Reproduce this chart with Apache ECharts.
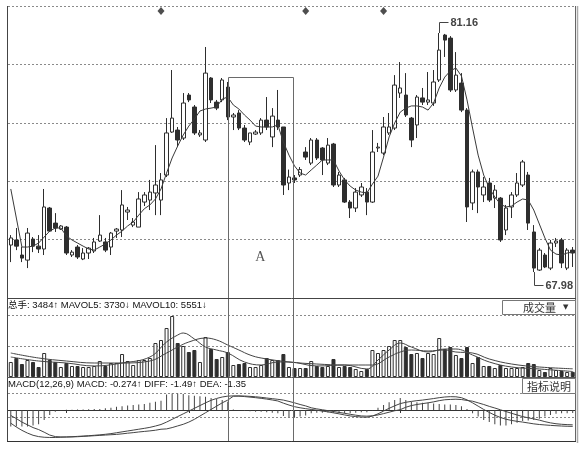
<!DOCTYPE html>
<html><head><meta charset="utf-8">
<script src="https://cdn.jsdelivr.net/npm/echarts@6/dist/echarts.min.js"></script>
<style>html,body{margin:0;padding:0;background:#fff}#c{width:583px;height:450px}</style>
</head><body><div id="c"></div>
<script>
// ---- candle data ----
const opens  = [69.47,69.75,68.92,68.64,69.80,69.41,69.25,71.51,70.68,70.35,70.46,68.92,69.36,68.70,69.03,69.14,69.69,69.64,69.36,70.24,70.30,71.29,70.57,70.46,71.84,71.95,72.34,71.95,73.33,75.70,75.81,75.37,77.74,77.08,75.54,75.26,78.68,77.35,77.47,78.18,76.53,76.75,75.92,75.15,75.59,75.65,76.36,75.43,76.36,75.98,72.89,73.17,73.33,74.60,73.99,75.26,74.82,73.99,75.04,72.78,73.06,71.84,71.51,72.23,72.39,71.84,74.82,74.54,75.65,75.92,77.85,77.74,76.47,76.09,77.58,77.35,77.30,78.57,81.05,80.88,78.02,78.40,76.91,71.79,73.50,72.23,72.89,72.06,72.06,70.30,71.57,72.23,72.78,73.33,70.19,68.09,68.92,68.20,69.58,69.75,68.20,69.19];
const closes = [69.86,69.41,68.75,70.13,69.41,69.25,71.57,70.24,70.41,70.52,69.03,69.08,68.81,69.03,69.30,69.64,70.02,69.19,70.13,70.35,71.68,71.40,70.74,72.01,72.23,72.39,72.78,73.06,75.65,76.47,75.26,77.30,77.47,75.65,75.65,78.95,77.47,77.02,78.57,76.53,76.64,75.92,75.26,75.65,75.70,76.36,75.98,76.58,75.98,72.78,73.22,73.06,73.63,74.32,75.26,74.27,74.16,74.98,72.78,73.33,71.84,71.51,72.39,72.67,71.84,74.60,74.87,75.98,75.98,78.29,78.13,76.64,75.26,77.63,77.35,77.47,78.46,80.22,80.77,78.02,78.84,76.91,71.57,73.50,72.67,72.67,71.95,72.50,69.75,71.51,72.23,72.89,74.05,70.68,68.20,69.19,68.26,69.58,69.69,68.48,69.19,69.03];
const lows   = [68.53,69.19,68.53,68.20,69.08,69.03,68.92,70.19,70.19,70.30,68.92,68.81,68.70,68.64,68.70,69.03,69.64,69.08,68.92,69.86,69.91,70.85,70.46,70.46,71.62,71.40,71.12,71.12,73.22,75.65,74.87,75.26,77.35,75.54,75.43,75.15,77.30,76.91,77.35,76.36,75.81,75.81,75.15,74.98,75.54,75.54,75.81,74.87,75.81,72.23,72.50,72.89,73.22,74.16,73.88,74.16,73.33,73.88,72.67,72.67,71.79,70.96,71.29,72.12,71.12,71.79,74.60,74.43,75.54,75.81,77.58,76.53,74.87,75.37,77.19,77.19,77.14,78.46,79.84,77.91,77.91,76.80,70.74,71.40,71.23,71.84,71.84,71.51,69.64,70.02,70.96,72.12,72.67,70.30,67.98,68.04,68.20,68.09,69.36,68.20,68.09,68.26];
const highs  = [70.02,70.41,69.36,70.41,69.91,70.02,72.56,71.57,71.23,70.57,70.52,69.19,69.47,69.30,69.36,69.86,71.12,69.86,70.19,70.41,72.50,71.57,70.96,72.39,72.39,73.06,74.98,73.44,76.47,79.12,75.98,77.85,77.85,77.19,75.81,80.39,78.73,77.47,78.68,78.46,76.75,76.91,76.09,75.65,75.81,76.47,77.63,77.02,78.02,75.98,73.63,73.33,73.77,74.87,75.37,75.37,74.87,75.37,75.10,73.50,73.17,71.95,72.61,72.89,72.61,75.81,75.10,76.53,76.75,78.84,79.56,78.95,76.53,77.74,78.13,79.01,79.12,81.16,81.11,80.99,80.11,78.95,77.02,73.63,73.63,73.22,73.17,72.78,72.12,71.68,72.39,73.44,74.16,73.50,70.57,69.30,69.03,69.75,69.86,69.86,69.30,69.36];
const ma5    = [72.56,70.96,69.36,69.36,69.41,69.58,69.91,70.24,70.41,70.41,69.97,69.75,69.58,69.41,69.25,69.19,69.36,69.53,69.75,70.02,70.24,70.52,70.74,71.12,71.47,71.68,72.01,72.56,73.44,74.27,74.93,75.54,76.03,76.42,76.86,76.97,77.02,77.08,77.52,77.63,77.19,76.97,76.64,76.36,76.03,75.98,75.98,75.98,76.09,75.15,74.43,73.83,73.44,73.33,73.61,73.88,74.16,74.16,74.16,73.55,73.06,72.72,72.50,72.39,72.34,72.83,73.27,74.32,75.43,76.20,76.80,77.02,77.14,77.14,77.08,76.91,77.30,78.13,78.73,79.07,79.23,78.79,77.47,75.92,74.43,73.33,72.61,72.12,71.73,71.57,71.62,71.84,72.01,71.95,71.40,70.63,69.86,69.19,68.97,68.92,69.03,69.08];
const highMark = 81.16, lowMark = 67.98;
const markerDays = [27, 53, 67];
const tickDays = [10, 32, 70, 92];

// ---- volume ----
const volumes = [10160,12860,8800,11510,10160,6770,16250,11510,10160,6770,9480,7450,7450,6770,6770,7450,10830,7450,9480,9480,15570,10830,8120,11510,11510,12860,23020,25050,33170,41300,23020,20990,16930,18280,10160,27080,18960,12190,13540,16930,8120,8800,9480,6770,6770,8120,12860,11510,11510,15570,6770,6090,6090,6090,10830,7450,6770,7450,12190,6770,7450,6770,5420,4060,5420,18280,16250,18280,20990,25050,25050,20310,15570,16250,12860,16250,15570,26400,18960,20310,14890,12860,20310,9480,13540,7450,7450,6090,8120,6090,6090,6090,6770,9480,8800,4740,3390,6090,4740,4060,3390,3484];
const mavol5Pts = [[0,13540],[5,10830],[10,9480],[15,7450],[20,9480],[25,13540],[28,23700],[30,28430],[31,29790],[33,25730],[35,20310],[37,18280],[39,16250],[42,10160],[45,8120],[48,10160],[50,10160],[55,7450],[60,8120],[64,5420],[66,11510],[68,18280],[70,23020],[72,20310],[75,16930],[78,18960],[80,18960],[83,14890],[86,10160],[90,6770],[95,5420],[101,3730]];
const mavol10Pts = [[0,16250],[5,12860],[10,10830],[15,9480],[20,9480],[25,10830],[28,16250],[30,20310],[32,23700],[35,26400],[37,25050],[39,21660],[41,18280],[43,14890],[45,12860],[50,10160],[55,8800],[60,8120],[65,8120],[68,13540],[70,16930],[72,18280],[75,17600],[78,18280],[80,16930],[83,16250],[86,12190],[90,8800],[95,6770],[101,5551]];
const volTitle = '总手: 3484↑ MAVOL5: 3730↓ MAVOL10: 5551↓';

// ---- MACD ----
const diff = [-1.20,-1.55,-1.85,-2.10,-2.30,-2.42,-2.48,-2.50,-2.50,-2.48,-2.45,-2.43,-2.40,-2.37,-2.34,-2.30,-2.26,-2.21,-2.15,-2.07,-1.99,-1.91,-1.83,-1.75,-1.67,-1.58,-1.46,-1.32,-1.10,-0.85,-0.60,-0.35,-0.10,0.15,0.40,0.65,0.88,1.05,1.18,1.26,1.28,1.26,1.22,1.17,1.12,1.06,0.99,0.91,0.82,0.62,0.45,0.30,0.20,0.12,0.05,-0.02,-0.10,-0.17,-0.26,-0.35,-0.45,-0.54,-0.60,-0.64,-0.66,-0.55,-0.35,-0.10,0.15,0.38,0.58,0.70,0.78,0.85,0.90,0.97,1.04,1.12,1.18,1.21,1.20,1.12,0.92,0.65,0.35,0.05,-0.22,-0.47,-0.68,-0.84,-0.95,-1.03,-1.10,-1.18,-1.26,-1.32,-1.36,-1.40,-1.43,-1.46,-1.48,-1.49];
const dea  = [-0.50,-0.78,-1.10,-1.35,-1.60,-1.78,-2.02,-2.28,-2.42,-2.45,-2.46,-2.45,-2.43,-2.40,-2.37,-2.34,-2.31,-2.28,-2.25,-2.22,-2.17,-2.11,-2.06,-2.00,-1.95,-1.90,-1.84,-1.75,-1.72,-1.60,-1.45,-1.30,-1.10,-0.85,-0.55,-0.25,0.05,0.35,0.65,0.90,1.25,1.28,1.27,1.24,1.20,1.15,1.09,1.03,0.97,0.90,0.78,0.65,0.50,0.37,0.20,0.10,0.02,-0.06,-0.14,-0.22,-0.30,-0.39,-0.47,-0.54,-0.56,-0.53,-0.45,-0.33,-0.20,-0.07,0.03,0.25,0.40,0.50,0.58,0.65,0.74,0.85,0.93,0.96,0.98,0.95,0.87,0.80,0.65,0.50,0.33,0.18,0.02,-0.14,-0.30,-0.45,-0.60,-0.71,-0.81,-0.92,-1.06,-1.17,-1.25,-1.30,-1.33,-1.35];
const macdHist = [-1.5,-1.5,-1.5,-1.5,-1.4,-1.3,-0.9,-0.45,-0.15,-0.05,0.02,0.03,0.05,0.05,0.06,0.08,0.1,0.15,0.2,0.3,0.35,0.4,0.45,0.5,0.55,0.65,0.75,0.85,1.4,1.5,1.5,1.45,1.35,1.3,1.25,1.2,1.1,1.0,0.9,0.75,0.05,-0.03,-0.1,-0.12,-0.15,-0.15,-0.2,-0.25,-0.3,-0.55,-0.65,-0.7,-0.6,-0.5,-0.3,-0.25,-0.25,-0.22,-0.25,-0.25,-0.3,-0.3,-0.25,-0.2,-0.2,-0.05,0.2,0.45,0.7,0.9,1.1,0.9,0.75,0.7,0.65,0.65,0.6,0.55,0.5,0.5,0.45,0.35,0.1,-0.3,-0.6,-0.9,-1.1,-1.3,-1.4,-1.4,-1.3,-1.15,-1.0,-0.95,-0.9,-0.8,-0.6,-0.45,-0.35,-0.3,-0.3,-0.27];
const macdTitle = 'MACD(12,26,9) MACD: -0.274↑ DIFF: -1.49↑ DEA: -1.35';

// ---- build ----
const N = opens.length;
const cats = opens.map((_, i) => String(i + 1));
const DARK = '#2e2e2e';
const candleData = opens.map((o, i) => [o, closes[i], lows[i], highs[i]]);
const volData = volumes.map((v, i) => ({
  value: v,
  itemStyle: closes[i] >= opens[i]
    ? { color: '#fff', borderColor: DARK, borderWidth: 1 }
    : { color: DARK, borderColor: DARK, borderWidth: 1 }
}));
const PMIN = 66.55, PMAX = 82.65;
const dotted = { show: true, lineStyle: { color: '#8a8a8a', type: [2, 2], width: 1 } };
const hidden = { show: false };
const gridL = 8, gridW = 567.5;

const chart = echarts.init(document.getElementById('c'), null, { renderer: 'canvas' });
chart.setOption({
  animation: false,
  backgroundColor: '#fff',
  grid: [
    { left: gridL, width: gridW, top: 6, height: 292 },
    { left: gridL, width: gridW, top: 298, height: 79 },
    { left: gridL, width: gridW, top: 377, height: 64 }
  ],
  xAxis: [0, 1, 2].map(g => ({
    type: 'category', gridIndex: g, data: cats, boundaryGap: true,
    axisLine: { show: g === 2, lineStyle: { color: '#333', width: 1 } },
    axisTick: g === 2 ? { show: true, alignWithLabel: true, length: 3, lineStyle: { color: '#333' },
      interval: (idx) => tickDays.includes(idx) } : { show: false },
    axisLabel: { show: false }, splitLine: { show: false }
  })),
  yAxis: [
    { type: 'value', gridIndex: 0, min: PMIN, max: PMAX, show: true, axisLine: hidden, axisTick: hidden, axisLabel: hidden, splitLine: hidden },
    { type: 'value', gridIndex: 0, min: 0, max: 5, interval: 1, axisLine: hidden, axisTick: hidden, axisLabel: hidden, splitLine: dotted },
    { type: 'value', gridIndex: 1, min: 0, max: 53500, interval: 21000, axisLine: hidden, axisTick: hidden, axisLabel: hidden, splitLine: dotted },
    { type: 'value', gridIndex: 2, min: -2.82, max: 3.0, axisLine: hidden, axisTick: hidden, axisLabel: hidden, splitLine: hidden },
    { type: 'value', gridIndex: 2, min: 0, max: 64 / 24, interval: 1, axisLine: hidden, axisTick: hidden, axisLabel: hidden, splitLine: dotted }
  ],
  series: [
    { type: 'candlestick', xAxisIndex: 0, yAxisIndex: 0, data: candleData, barWidth: 4,
      itemStyle: { color: '#fff', color0: DARK, borderColor: DARK, borderColor0: DARK, borderWidth: 1 } },
    { type: 'line', xAxisIndex: 0, yAxisIndex: 0, data: ma5, symbol: 'none', lineStyle: { color: '#3a3a3a', width: 1 }, z: 3 },
    { type: 'scatter', xAxisIndex: 0, yAxisIndex: 0, symbol: 'diamond', symbolSize: [7, 8],
      data: markerDays.map(d => [d, PMAX - 0.28]), itemStyle: { color: '#222' } },
    { type: 'bar', xAxisIndex: 1, yAxisIndex: 2, data: volData, barWidth: 4 },
    { type: 'line', xAxisIndex: 1, yAxisIndex: 2, data: mavol5Pts, symbol: 'none', smooth: 0.4, lineStyle: { color: '#444', width: 1 }, z: 3 },
    { type: 'line', xAxisIndex: 1, yAxisIndex: 2, data: mavol10Pts, symbol: 'none', smooth: 0.4, lineStyle: { color: '#444', width: 1 }, z: 3 },
    { type: 'bar', xAxisIndex: 2, yAxisIndex: 3, data: macdHist, barWidth: 1, itemStyle: { color: '#444' } },
    { type: 'line', xAxisIndex: 2, yAxisIndex: 3, data: diff, symbol: 'none', lineStyle: { color: '#444', width: 1 }, z: 3 },
    { type: 'line', xAxisIndex: 2, yAxisIndex: 3, data: dea, symbol: 'none', lineStyle: { color: '#444', width: 1 }, z: 3 }
  ]
});

// ---- annotations positioned through the chart's own scales ----
const hiIdx = highs.indexOf(highMark), loIdx = lows.indexOf(lowMark);
const hp = chart.convertToPixel({ gridIndex: 0 }, [hiIdx, highMark]);
const lp = chart.convertToPixel({ gridIndex: 0 }, [loIdx, lowMark]);
const bx0 = chart.convertToPixel({ xAxisIndex: 0 }, 39);
const bx1 = chart.convertToPixel({ xAxisIndex: 0 }, 50) + 4;
const byTop = chart.convertToPixel({ yAxisIndex: 0 }, 78.68);
const line = (x1, y1, x2, y2, c, w) => ({ type: 'line', z: 100, silent: true,
  shape: { x1, y1, x2, y2 }, style: { stroke: c || '#333', lineWidth: w || 1 } });
const font = '9.5px "Liberation Sans", "Noto Sans CJK SC", sans-serif';
const hx = Math.round(hp[0]) + 0.5, lx = Math.round(lp[0]) + 0.5;
chart.setOption({
  graphic: [
    line(7.5, 6, 7.5, 441, '#444'),
    line(575.5, 6, 575.5, 442, '#666'),
    line(577.5, 6, 577.5, 443, '#aaa', 1.5),
    line(7, 298.5, 576, 298.5, '#444'),
    line(7, 377.5, 576, 377.5, '#555'),
    line(7, 441.5, 576, 441.5, '#333'),
    // box A
    { type: 'rect', z: 90, silent: true, shape: { x: Math.round(bx0) + 0.5, y: Math.round(byTop) - 0.5, width: Math.round(bx1 - bx0), height: 442 - Math.round(byTop) },
      style: { fill: 'none', stroke: '#6a6a6a', lineWidth: 1 } },
    { type: 'text', z: 100, style: { text: 'A', x: (bx0 + bx1) / 2, y: 257, align: 'center', verticalAlign: 'middle',
      font: '14px "Liberation Serif", "DejaVu Serif", serif', fill: '#555' } },
    // high / low marks
    line(hx, hp[1], hx, 22.5, '#444'),
    line(hx, 22.5, hx + 9, 22.5, '#444'),
    { type: 'text', z: 100, style: { text: highMark.toFixed(2), x: hx + 11, y: 23, verticalAlign: 'middle',
      font: 'bold 11px "Liberation Sans", Arial, sans-serif', fill: '#444' } },
    line(lx, lp[1], lx, 285.5, '#444'),
    line(lx, 285.5, lx + 9, 285.5, '#444'),
    { type: 'text', z: 100, style: { text: lowMark.toFixed(2), x: lx + 11, y: 286, verticalAlign: 'middle',
      font: 'bold 11px "Liberation Sans", Arial, sans-serif', fill: '#444' } },
    // volume header
    { type: 'text', z: 100, style: { text: volTitle, x: 8, y: 305.5, verticalAlign: 'middle', font: font, fill: '#111' } },
    { type: 'rect', z: 100, shape: { x: 502.5, y: 300.5, width: 73, height: 14 }, style: { fill: '#fff', stroke: '#777', lineWidth: 1 } },
    { type: 'text', z: 101, style: { text: '成交量', x: 523, y: 308, verticalAlign: 'middle', font: '11px "Noto Sans CJK SC", sans-serif', fill: '#333' } },
    { type: 'text', z: 101, style: { text: '▼', x: 563, y: 307.5, verticalAlign: 'middle', font: '7px "DejaVu Sans", sans-serif', fill: '#333' } },
    // MACD header
    { type: 'text', z: 100, style: { text: macdTitle, x: 8, y: 384.5, verticalAlign: 'middle', font: font, fill: '#111',
      width: 243, overflow: 'truncate', ellipsis: '' } },
    { type: 'rect', z: 100, shape: { x: 522.5, y: 378.5, width: 53, height: 15 }, style: { fill: '#fff', stroke: '#777', lineWidth: 1 } },
    { type: 'text', z: 101, style: { text: '指标说明', x: 549, y: 386.5, align: 'center', verticalAlign: 'middle', font: '11px "Noto Sans CJK SC", sans-serif', fill: '#333' } }
  ]
});
</script></body></html>
